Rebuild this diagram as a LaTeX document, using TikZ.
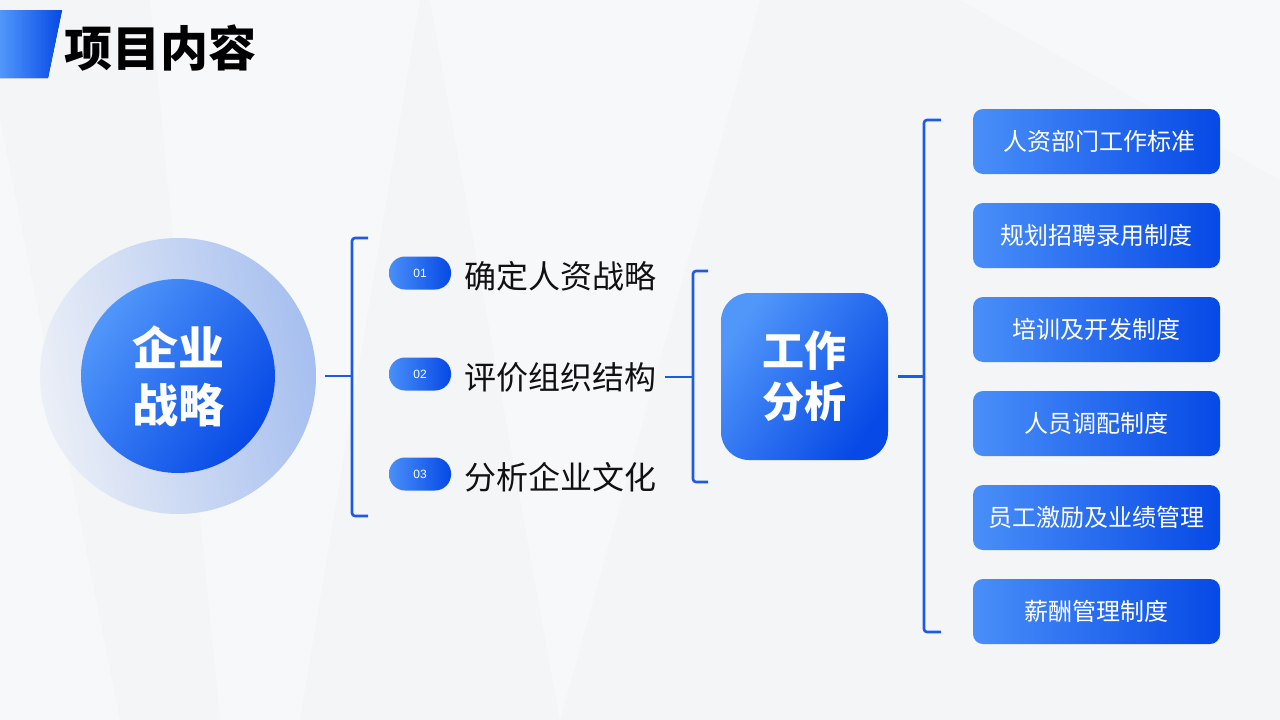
\documentclass[tikz,border=0pt]{standalone}
\usepackage{fontspec}
\setmainfont{Noto Sans CJK SC}
\newfontfamily\latinf{Liberation Sans}
\definecolor{bg}{HTML}{F4F5F7}
\definecolor{lb}{HTML}{5197FA}
\definecolor{db}{HTML}{0649E6}
\definecolor{brc}{HTML}{1E5BE0}
\definecolor{txt}{HTML}{111111}
\definecolor{ringl}{HTML}{EBEFF7}
\definecolor{ringr}{HTML}{A6BFEF}
\tikzset{
  grad/.style={shading=axis, top color=lb, bottom color=db, shading angle=55, draw=none},
  hgrad/.style={shading=axis, left color=lb!90!db, right color=db, draw=none},
  br/.style={draw=brc, line width=2.6pt, rounded corners=3pt},
  stem/.style={draw=brc, line width=2.6pt},
  pill/.style={hgrad, rounded corners=16pt, minimum width=62pt, minimum height=33pt, inner sep=0pt, text=white, font=\latinf\fontsize{12}{14}\selectfont},
  lab/.style={anchor=west, text=txt, inner sep=0pt, font=\fontsize{32}{36}\selectfont},
  rbox/.style={hgrad, rounded corners=10pt, minimum width=247pt, minimum height=65pt, inner sep=0pt, text=white, font=\fontsize{24}{28}\selectfont}
}
\begin{document}
\begin{tikzpicture}[x=1pt,y=-1pt]
\useasboundingbox (0,0) rectangle (1280,720);
\fill[bg] (0,0) rectangle (1280,720);
% faint background facets
\fill[white, opacity=0.35] (0,120) -- (120,720) -- (0,720) -- cycle;
\fill[white, opacity=0.3] (150,0) -- (420,0) -- (300,720) -- (220,720) -- cycle;
\fill[white, opacity=0.35] (430,0) -- (760,0) -- (560,720) -- cycle;
\fill[gray!8, opacity=0.3] (700,720) -- (1280,300) -- (1280,720) -- cycle;
\fill[white, opacity=0.3] (960,0) -- (1280,0) -- (1280,180) -- cycle;

% title
\fill[shading=axis, left color=lb, right color=db] (0,10) -- (62,10) -- (48,78) -- (0,78) -- cycle;
\node[anchor=west, inner sep=0pt, font=\bfseries\fontsize{48}{50}\selectfont, text=black] (title) at (64,48) {项目内容};

% left circle
\node[circle, minimum size=276pt, draw=none, shading=axis, left color=ringl, right color=ringr, shading angle=100] (outer) at (178,376) {};
\node[circle, minimum size=194pt, grad, align=center, text=white, font=\bfseries\fontsize{46}{57}\selectfont] (core) at (178,376) {企业\\战略};

% bracket 1
\coordinate (b1) at (352,376);
\draw[stem] ([xshift=9pt]outer.east) -- (b1);
\draw[br] (368,238) -- (352,238) -- (352,516) -- (368,516);

% items
\node[pill] (p1) at (420,273) {01};
\node[pill] (p2) at (420,374) {02};
\node[pill] (p3) at (420,474) {03};
\node[lab] (l1) at (464,276) {确定人资战略};
\node[lab] (l2) at (464,377) {评价组织结构};
\node[lab] (l3) at (464,477) {分析企业文化};

% bracket 2
\coordinate (b2) at (693,377);
\draw[stem] ([xshift=9pt]l2.east) -- (b2);
\draw[br] (708,271) -- (693,271) -- (693,482) -- (708,482);

% work analysis box
\node[grad, rounded corners=28pt, minimum width=167pt, minimum height=167pt, align=center, text=white, font=\bfseries\fontsize{42}{51}\selectfont] (work) at (804.5,376.5) {工作\\分析};

% bracket 3
\coordinate (b3) at (924,376.5);
\draw[stem] ([xshift=10pt]work.east) -- (b3);
\draw[br] (941,120) -- (924,120) -- (924,632) -- (941,632);

% right boxes
\node[rbox] (r1) at (1096.5,141.5) {\hspace{6pt}人资部门工作标准};
\node[rbox] (r2) at (1096.5,235.5) {规划招聘录用制度};
\node[rbox] (r3) at (1096.5,329.5) {培训及开发制度};
\node[rbox] (r4) at (1096.5,423.5) {人员调配制度};
\node[rbox] (r5) at (1096.5,517.5) {员工激励及业绩管理};
\node[rbox] (r6) at (1096.5,611.5) {薪酬管理制度};
\end{tikzpicture}
\end{document}
